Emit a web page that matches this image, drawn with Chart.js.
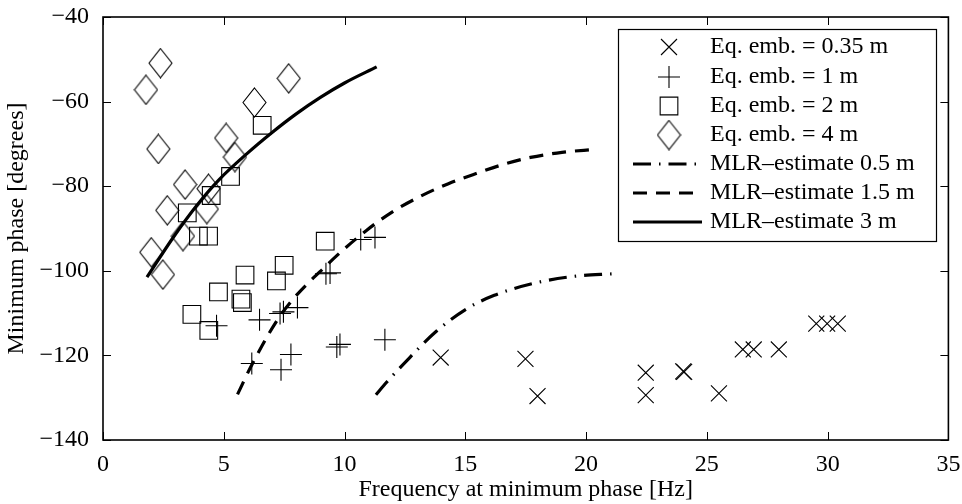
<!DOCTYPE html>
<html>
<head>
<meta charset="utf-8">
<title>Minimum phase vs frequency</title>
<script src="https://cdn.jsdelivr.net/npm/chart.js@4.4.1/dist/chart.umd.min.js"></script>
<style>
  html, body { margin: 0; padding: 0; background: #fff; }
  #wrap { width: 962px; height: 504px; }
</style>
</head>
<body>
<div id="wrap"><canvas id="phaseChart" width="962" height="504"></canvas></div>
<script>
const xTicks = [0, 5, 10, 15, 20, 25, 30, 35];
const yTicks = [-140, -120, -100, -80, -60, -40];

// measurements: [frequency at minimum phase (Hz), minimum phase (deg)]
const emb035 = [
  [13.98, -120.5], [17.49, -120.8], [17.99, -129.6], [22.47, -124.1], [22.47, -129.4],
  [24.02, -123.8], [24.06, -123.9], [25.5, -129.0], [26.49, -118.6], [26.94, -118.6],
  [27.98, -118.6], [29.53, -112.5], [29.98, -112.5], [30.42, -112.5]
];
const emb1 = [
  [4.7, -113.0], [6.48, -111.6], [7.33, -110.1], [7.47, -109.7], [8.05, -108.7],
  [6.16, -121.9], [7.78, -119.8], [7.37, -123.4], [9.68, -118.0], [9.81, -117.4],
  [11.67, -116.3], [9.23, -100.7], [9.4, -100.5], [10.67, -92.6], [11.26, -92.1]
];
const emb2 = [
  [6.59, -65.6], [5.28, -77.7], [4.48, -82.2], [3.49, -86.3], [3.95, -91.8],
  [4.37, -91.8], [9.2, -93.0], [7.5, -98.7], [7.18, -102.4], [5.88, -101.0],
  [4.78, -105.0], [5.71, -106.7], [5.77, -107.5], [3.68, -110.3], [4.38, -114.1]
];
const emb4 = [
  [1.78, -57.2], [2.38, -50.9], [2.29, -71.2], [3.4, -79.6], [2.66, -85.7],
  [4.37, -80.6], [4.3, -85.4], [5.1, -68.6], [5.46, -73.1], [6.27, -60.2],
  [7.69, -54.5], [3.31, -91.8], [2.0, -95.6], [2.48, -100.9]
];

// MLR estimate curves
const mlr05 = [
  [11.3, -129.3], [11.75, -126.3], [12.7, -120.5], [13.8, -114.3], [15.05, -109.0],
  [16.2, -105.8], [17.8, -103.0], [19.5, -101.3], [21.15, -100.7]
];
const mlr15 = [
  [5.57, -129.2], [6.19, -121.9], [7.4, -110.1], [9.33, -98.3], [10.92, -90.4],
  [12.0, -86.0], [13.1, -82.5], [14.3, -79.4], [15.5, -76.9], [16.6, -74.8],
  [17.7, -73.2], [19.0, -72.0], [20.36, -71.3]
];
const mlr3 = [
  [1.82, -101.5], [2.92, -92.0], [3.89, -84.5], [4.78, -78.6], [5.96, -72.3],
  [7.0, -67.3], [8.0, -62.9], [9.0, -59.0], [10.0, -55.6], [11.33, -51.8]
];

const seriesLabels = [
  'Eq. emb. = 0.35 m', 'Eq. emb. = 1 m', 'Eq. emb. = 2 m', 'Eq. emb. = 4 m',
  'MLR\u2013estimate 0.5 m', 'MLR\u2013estimate 1.5 m', 'MLR\u2013estimate 3 m'
];

const FONT = "'Liberation Serif', 'Times New Roman', serif";
const FSIZE = 24;
const INK = '#000';

const toXY = arr => arr.map(([x, y]) => ({ x, y }));
const minus = v => (v < 0 ? '\u2212' + Math.abs(v) : String(v));

// tall open diamond, like the matlab marker
function diamondMarker() {
  const c = document.createElement('canvas');
  c.width = 25; c.height = 31;
  const g = c.getContext('2d');
  g.strokeStyle = INK;
  g.lineWidth = 1.1;
  g.beginPath();
  g.moveTo(12.5, 1); g.lineTo(24, 15.5); g.lineTo(12.5, 30); g.lineTo(1, 15.5);
  g.closePath();
  g.stroke();
  return c;
}
const diamond = diamondMarker();

const markerSet = (label, data, style, radius) => ({
  label, data: toXY(data), showLine: false,
  pointStyle: style, pointRadius: radius, pointHoverRadius: radius,
  pointBorderWidth: 1.1, pointBorderColor: INK, pointBackgroundColor: 'rgba(0,0,0,0)'
});
const curveSet = (label, data, dash) => ({
  label, data: toXY(data), showLine: true, pointRadius: 0,
  borderColor: '#000', borderWidth: 3.2, borderDash: dash,
  cubicInterpolationMode: 'monotone', fill: false
});

const datasets = [
  markerSet(seriesLabels[0], emb035, 'crossRot', 11.3),
  markerSet(seriesLabels[1], emb1, 'cross', 11),
  markerSet(seriesLabels[2], emb2, 'rect', 12.5),
  markerSet(seriesLabels[3], emb4, diamond, 12),
  curveSet(seriesLabels[4], mlr05, [18, 8, 1.5, 8]),
  curveSet(seriesLabels[5], mlr15, [14, 9]),
  curveSet(seriesLabels[6], mlr3, [])
];

// box around the axes with inward ticks on all four sides
const framePlugin = {
  id: 'frame',
  afterDatasetsDraw(chart) {
    const { ctx, chartArea: a, scales: { x, y } } = chart;
    ctx.save();
    ctx.strokeStyle = '#000';
    ctx.lineWidth = 1;
    ctx.beginPath();
    xTicks.forEach(v => {
      const px = Math.round(x.getPixelForValue(v)) + 0.5;
      ctx.moveTo(px, a.bottom); ctx.lineTo(px, a.bottom - 8);
      ctx.moveTo(px, a.top); ctx.lineTo(px, a.top + 8);
    });
    yTicks.forEach(v => {
      const py = Math.round(y.getPixelForValue(v)) + 0.5;
      ctx.moveTo(a.left, py); ctx.lineTo(a.left + 8, py);
      ctx.moveTo(a.right, py); ctx.lineTo(a.right - 8, py);
    });
    ctx.stroke();
    ctx.lineWidth = 1.6;
    ctx.strokeRect(a.left, a.top, a.right - a.left, a.bottom - a.top);
    ctx.restore();
  }
};

// framed legend in the upper right corner of the axes
const legendBoxPlugin = {
  id: 'legendBox',
  afterDraw(chart) {
    const { ctx } = chart;
    const box = { left: 618, top: 29, width: 318, height: 212 };
    const rows = [47, 77, 106, 135, 164, 193, 222];
    const symX = 669, lineL = 633, lineR = 702, textX = 710;
    ctx.save();
    ctx.fillStyle = '#fff';
    ctx.fillRect(box.left, box.top, box.width, box.height);
    ctx.strokeStyle = '#000';
    ctx.lineWidth = 1.2;
    ctx.strokeRect(box.left + 0.5, box.top + 0.5, box.width, box.height);

    chart.data.datasets.forEach((ds, i) => {
      const yy = rows[i];
      ctx.save();
      if (ds.showLine) {
        ctx.strokeStyle = ds.borderColor;
        ctx.lineWidth = ds.borderWidth;
        ctx.setLineDash(ds.borderDash || []);
        ctx.beginPath();
        ctx.moveTo(lineL, yy); ctx.lineTo(lineR, yy);
        ctx.stroke();
      } else {
        ctx.strokeStyle = ds.pointBorderColor;
        ctx.fillStyle = 'rgba(0,0,0,0)';
        ctx.lineWidth = ds.pointBorderWidth;
        Chart.helpers.drawPoint(ctx, {
          pointStyle: ds.pointStyle, radius: ds.pointRadius, rotation: 0,
          borderWidth: ds.pointBorderWidth
        }, symX, yy);
      }
      ctx.restore();
      ctx.fillStyle = '#000';
      ctx.font = FSIZE + 'px ' + FONT;
      ctx.textBaseline = 'middle';
      ctx.textAlign = 'left';
      ctx.fillText(ds.label, textX, yy);
    });
    ctx.restore();
  }
};

new Chart(document.getElementById('phaseChart'), {
  type: 'scatter',
  data: { datasets },
  options: {
    responsive: false,
    animation: false,
    devicePixelRatio: 1,
    layout: { padding: { top: 17, right: 13, left: 0, bottom: 0 } },
    plugins: { legend: { display: false }, tooltip: { enabled: false } },
    scales: {
      x: {
        type: 'linear', min: 0, max: 35,
        afterBuildTicks: s => { s.ticks = xTicks.map(value => ({ value })); },
        afterFit: s => { s.height = 64; s.paddingLeft = 0; s.paddingRight = 0; },
        grid: { display: false },
        border: { display: false },
        ticks: { color: '#000', font: { family: FONT, size: FSIZE }, padding: 2, maxRotation: 0 },
        title: {
          display: true, text: 'Frequency at minimum phase [Hz]', color: '#000',
          font: { family: FONT, size: FSIZE }, padding: { top: 0, bottom: 0 }
        }
      },
      y: {
        type: 'linear', min: -140, max: -40,
        afterBuildTicks: s => { s.ticks = yTicks.map(value => ({ value })); },
        afterFit: s => { s.width = 103; s.paddingTop = 0; s.paddingBottom = 0; },
        grid: { display: false },
        border: { display: false },
        ticks: { color: '#000', font: { family: FONT, size: FSIZE }, padding: 6, callback: minus },
        title: {
          display: true, text: 'Minimum phase [degrees]', color: '#000',
          font: { family: FONT, size: FSIZE }, padding: { top: 2, bottom: 0 }
        }
      }
    }
  },
  plugins: [framePlugin, legendBoxPlugin]
});
</script>
</body>
</html>
